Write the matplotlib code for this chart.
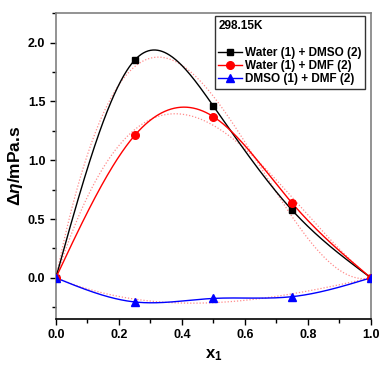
import numpy as np
import matplotlib.pyplot as plt
from matplotlib.ticker import MultipleLocator

plt.rcParams['font.family'] = ['Liberation Sans', 'DejaVu Sans']
plt.rcParams['font.weight'] = 'bold'
plt.rcParams['mathtext.fontset'] = 'custom'
plt.rcParams['mathtext.it'] = 'Liberation Sans:italic:bold'
plt.rcParams['mathtext.rm'] = 'Liberation Sans:bold'
plt.rcParams['mathtext.bf'] = 'Liberation Sans:bold'

x1 = [0.0, 0.25, 0.5, 0.75, 1.0]
water_dmso = [0.0, 1.85, 1.46, 0.575, 0.0]
water_dmf = [0.0, 1.21, 1.37, 0.635, 0.0]
dmso_dmf = [0.0, -0.205, -0.175, -0.16, 0.0]

series = [
    ("Water (1) + DMSO (2)", water_dmso, "black", "s", 5),
    ("Water (1) + DMF (2)", water_dmf, "#ff0000", "o", 5.5),
    ("DMSO (1) + DMF (2)", dmso_dmf, "#0000ff", "^", 6),
]


def natural_spline(x, y, xs):
    # natural cubic spline through the points
    n = len(x)
    h = np.diff(x)
    M = np.zeros((n, n))
    r = np.zeros(n)
    M[0, 0] = M[-1, -1] = 1
    for i in range(1, n - 1):
        M[i, i - 1] = h[i - 1]
        M[i, i] = 2 * (h[i - 1] + h[i])
        M[i, i + 1] = h[i]
        r[i] = 6 * ((y[i + 1] - y[i]) / h[i] - (y[i] - y[i - 1]) / h[i - 1])
    m = np.linalg.solve(M, r)
    k = np.clip(np.searchsorted(x, xs) - 1, 0, n - 2)
    t0 = x[k + 1] - xs
    t1 = xs - x[k]
    hk = h[k]
    return (m[k] * t0 ** 3 / (6 * hk) + m[k + 1] * t1 ** 3 / (6 * hk)
            + (y[k] / hk - m[k] * hk / 6) * t0 + (y[k + 1] / hk - m[k + 1] * hk / 6) * t1)


fig = plt.figure(figsize=(3.8, 3.65), dpi=100)
ax = fig.add_axes([0.147, 0.126, 0.829, 0.838])

xs = np.linspace(0, 1, 400)
xa = np.array(x1)
for label, y, col, mk, ms in series:
    ya = np.array(y)
    ax.plot(xs, natural_spline(xa, ya, xs), color=col, lw=1.0, zorder=3)
    ax.plot(xa, ya, ls='none', marker=mk, ms=ms, color=col, zorder=4)
    ax.plot([], [], color=col, lw=1.0, marker=mk, ms=ms, label=label)
    # Redlich-Kister style fit (dotted)
    A = np.column_stack([xa * (1 - xa), xa * (1 - xa) * (2 * xa - 1)])
    coef = np.linalg.lstsq(A, ya, rcond=None)[0]
    zs = xs * (1 - xs) * (coef[0] + coef[1] * (2 * xs - 1))
    ax.plot(xs, zs, color='#ff8c8c', lw=0.9, ls=(0, (1, 1.5)), zorder=2)

ax.set_xlim(0, 1)
ax.set_ylim(-0.35, 2.25)
ax.xaxis.set_major_locator(MultipleLocator(0.2))
ax.xaxis.set_minor_locator(MultipleLocator(0.1))
ax.yaxis.set_major_locator(MultipleLocator(0.5))
ax.yaxis.set_minor_locator(MultipleLocator(0.25))
ax.tick_params(which='both', direction='out', labelsize=9, width=1)
ax.tick_params(which='major', length=4)
ax.tick_params(which='minor', length=3)
for s in ['left', 'top', 'right']:
    ax.spines[s].set_color('#808080')
    ax.spines[s].set_linewidth(1.2)
ax.spines['bottom'].set_linewidth(1.2)
for lab in ax.get_xticklabels() + ax.get_yticklabels():
    lab.set_fontweight('bold')

ax.set_xlabel(r'$\mathbf{x_1}$', fontsize=12, labelpad=4)
ax.set_ylabel(r'$\mathit{\Delta\eta}$/mPa.s', fontsize=12.5, fontweight='bold', labelpad=2)

leg = ax.legend(loc='upper right', bbox_to_anchor=(0.99, 0.998), title='298.15K\n',
                fontsize=8.5, title_fontsize=8.5, frameon=True, fancybox=False,
                handlelength=2.0, handletextpad=0.3, borderpad=0.3, labelspacing=0.1,
                borderaxespad=0.2, alignment='left')
leg.get_frame().set_edgecolor('black')
leg.get_frame().set_linewidth(1.0)
leg.get_title().set_fontweight('bold')
for t in leg.get_texts():
    t.set_fontweight('bold')

fig.savefig('out.png', dpi=100)
